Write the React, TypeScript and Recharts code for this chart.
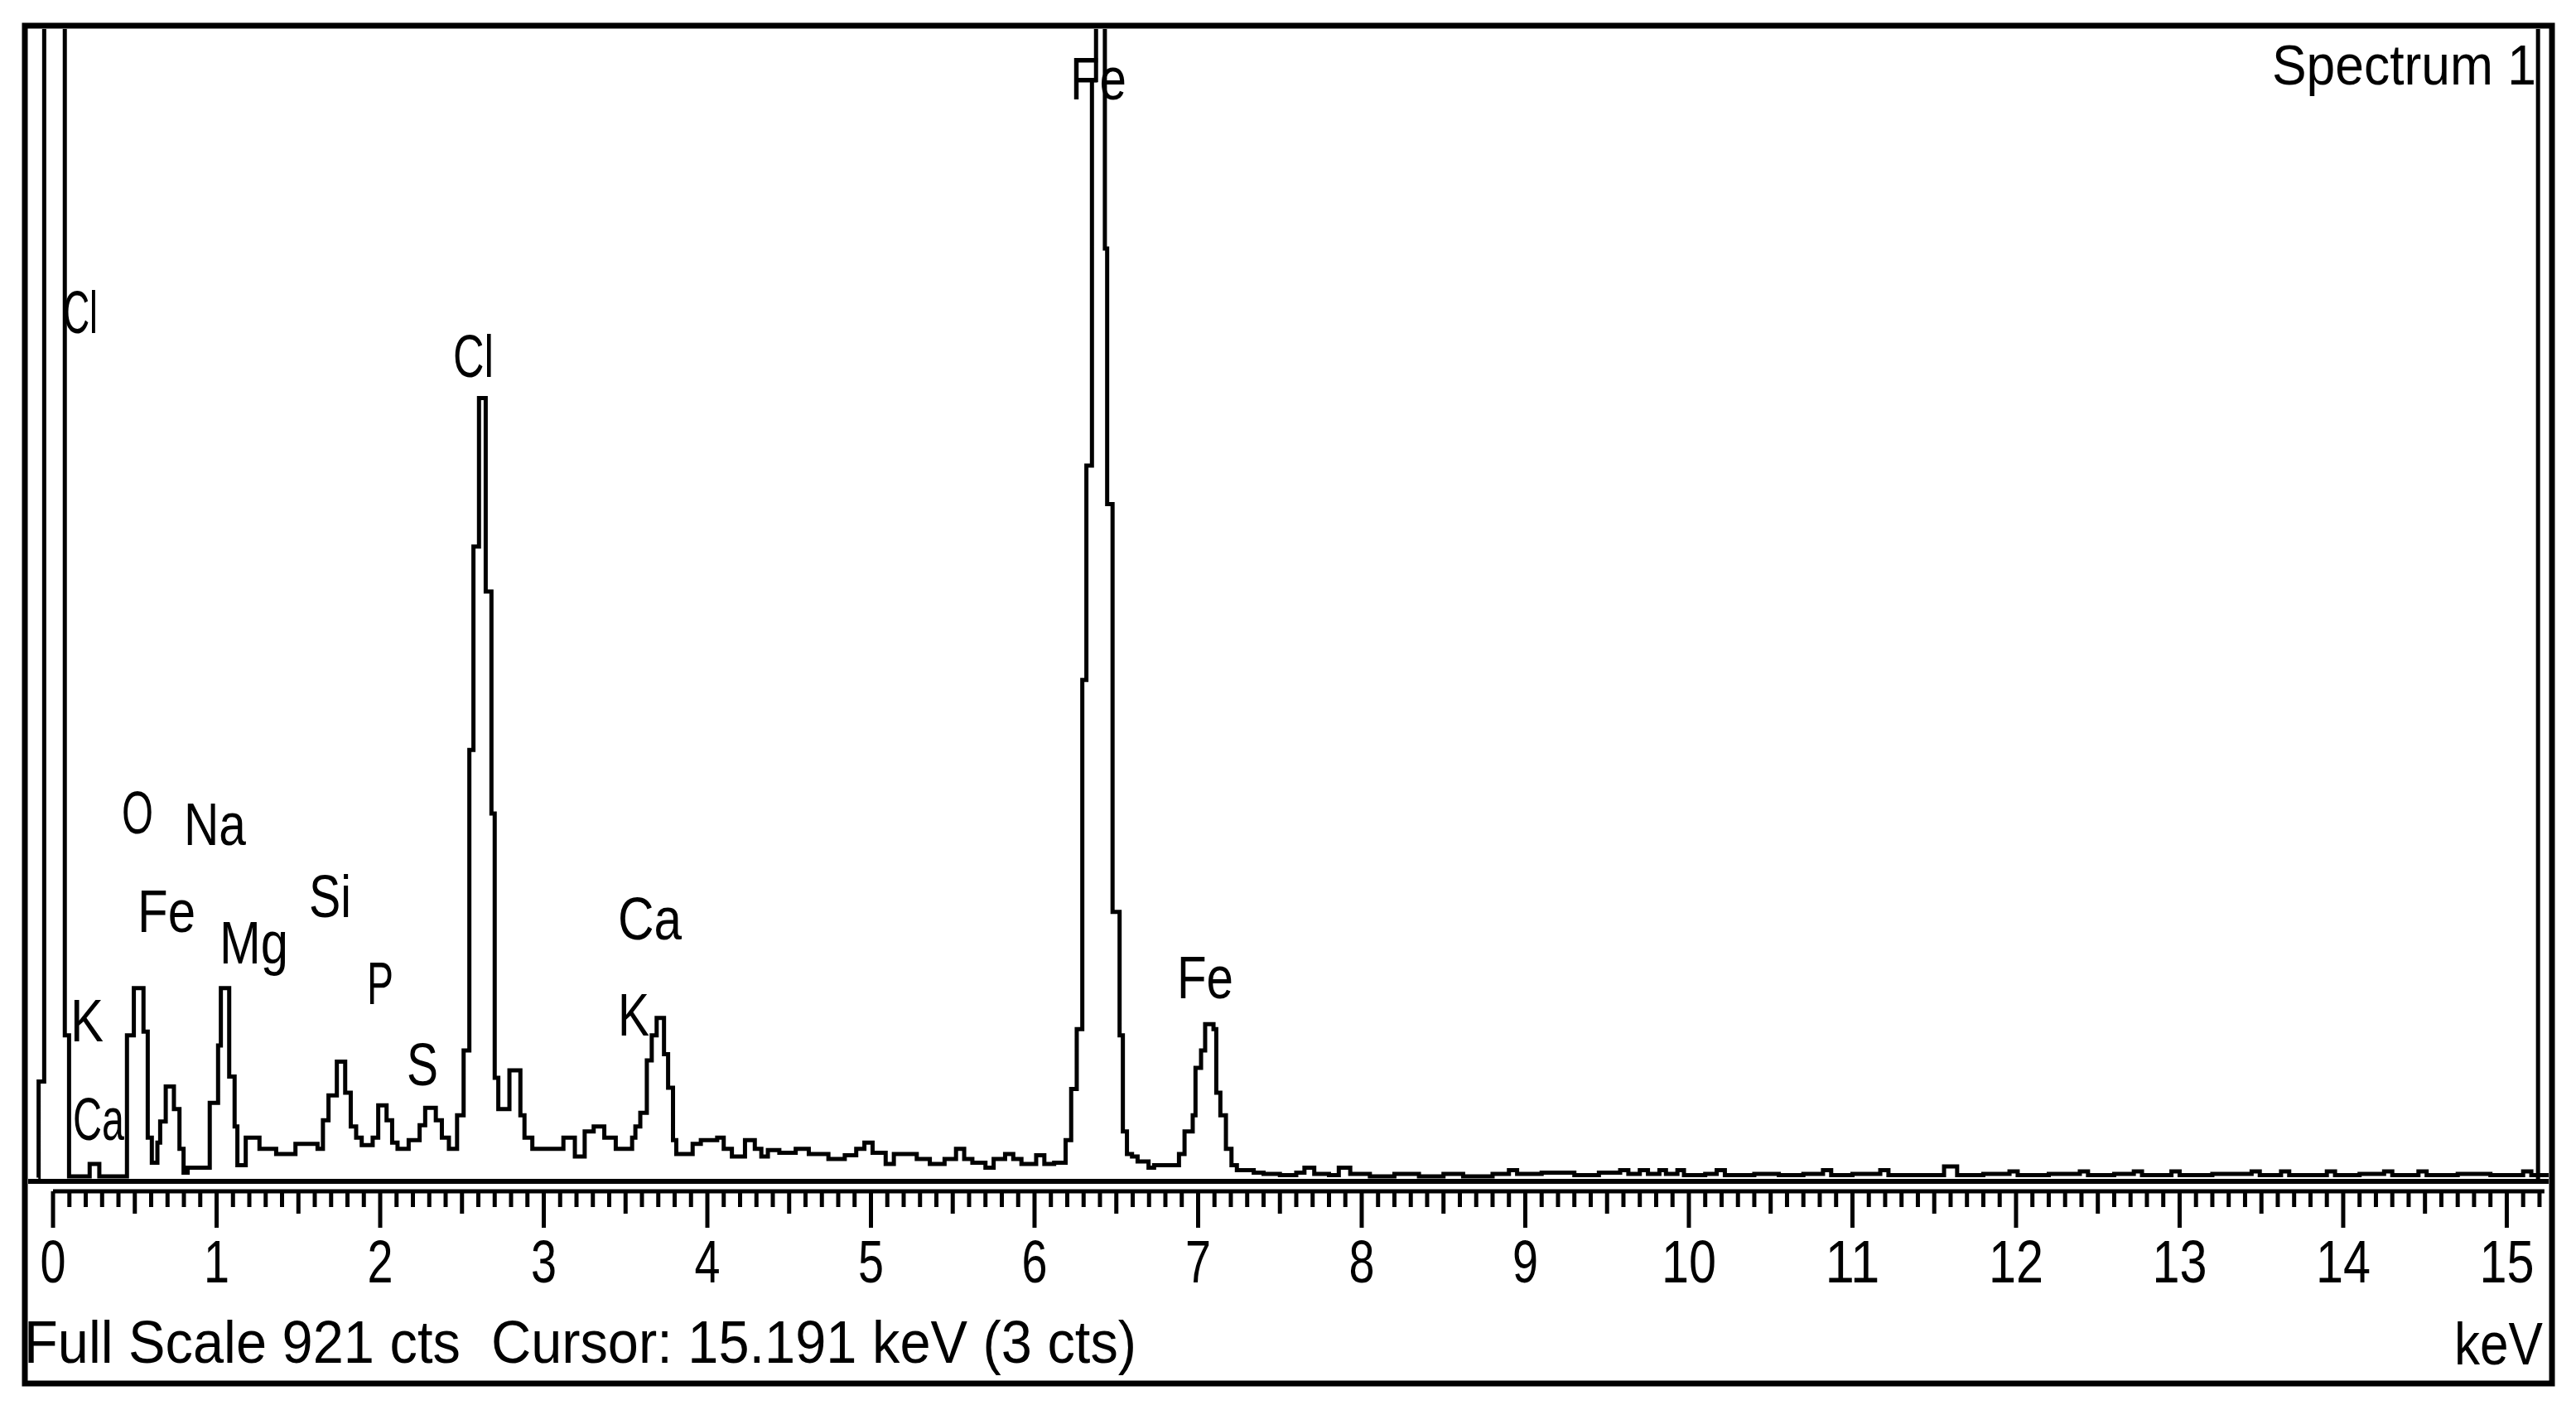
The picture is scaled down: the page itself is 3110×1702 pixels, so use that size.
import React from 'react';
import { LineChart, Line, XAxis, YAxis, ReferenceLine } from 'recharts';

// EDS spectrum, counts per energy step (keV)
const lightEnergy = [-0.09, -0.088, -0.054, 0.072, 0.098, 0.224, 0.283, 0.452, 0.494, 0.553, 0.579, 0.604, 0.638, 0.655, 0.689, 0.739, 0.773, 0.798, 0.823, 0.958, 1.009, 1.026, 1.077, 1.11, 1.127, 1.178];
const lightCounts = [0, 77, 2500, 114, 1, 11, 1, 114, 152, 117, 32, 12, 28, 45, 73, 55, 23, 4, 8, 60, 106, 152, 81, 41, 10, 32];

const siEnergy = [1.262, 1.364, 1.482, 1.617, 1.65, 1.684, 1.735, 1.786, 1.82, 1.853, 1.887, 1.954, 1.988, 2.039, 2.073, 2.106, 2.174, 2.241, 2.275, 2.34, 2.377, 2.42, 2.47];
const siCounts = [23, 19, 27, 23, 46, 66, 93, 68, 41, 32, 26, 32, 58, 46, 28, 23, 30, 42, 56, 46, 32, 23, 50];

const clEnergy = [2.51, 2.545, 2.57, 2.604, 2.645, 2.68, 2.7, 2.722, 2.79, 2.857, 2.882, 2.93];
const clCounts = [102, 343, 506, 625, 470, 292, 80, 55, 86, 50, 32, 23];

const caEnergy = [3.12, 3.19, 3.25, 3.305, 3.37, 3.44, 3.54, 3.56, 3.59, 3.63, 3.66, 3.69, 3.735, 3.76, 3.79, 3.81, 3.91, 3.96, 4.06, 4.1, 4.15, 4.23, 4.29, 4.33, 4.37, 4.44, 4.54, 4.62, 4.74, 4.84, 4.91, 4.96, 5.01, 5.09, 5.14, 5.28, 5.36, 5.45, 5.52, 5.57, 5.62, 5.7, 5.75, 5.82, 5.87, 5.92, 6.01, 6.06, 6.12];
const caCounts = [32, 17, 37, 41, 32, 23, 32, 41, 52, 94, 114, 128, 99, 72, 30, 19, 27, 30, 32, 23, 17, 30, 23, 17, 22, 20, 23, 19, 15, 18, 23, 28, 20, 11, 19, 15, 11, 15, 23, 15, 12, 8, 15, 19, 15, 11, 18, 11, 12];

const feEnergy = [6.19, 6.224, 6.258, 6.292, 6.317, 6.351, 6.376, 6.43, 6.444, 6.477, 6.52, 6.54, 6.565, 6.596, 6.63, 6.697, 6.731, 6.883, 6.917, 6.967, 6.984, 7.018, 7.043, 7.094, 7.111, 7.136, 7.17, 7.204, 7.237, 7.34];
const feCounts = [30, 71, 119, 399, 571, 880, 960, 745, 540, 213, 114, 37, 19, 17, 13, 8, 10, 19, 37, 50, 88, 102, 123, 119, 68, 50, 23, 10, 6, 4];

const tailEnergy = [7.4, 7.5, 7.6, 7.65, 7.71, 7.8, 7.86, 7.93, 8.05, 8.2, 8.35, 8.5, 8.62, 8.8, 8.9, 8.95, 9.1, 9.3, 9.45, 9.58, 9.63, 9.7, 9.75, 9.82, 9.86, 9.93, 9.97, 10.1, 10.17, 10.22, 10.4, 10.55, 10.7, 10.82, 10.87, 11.0, 11.17, 11.22, 11.4, 11.56, 11.64, 11.8, 11.96, 12.01, 12.2, 12.39, 12.44, 12.6, 12.72, 12.77, 12.95, 13.0, 13.2, 13.44, 13.49, 13.62, 13.67, 13.9, 13.95, 14.1, 14.25, 14.3, 14.46, 14.51, 14.7, 14.9, 15.1, 15.15, 15.26];
const tailCounts = [3, 2, 4, 8, 3, 2, 8, 3, 1, 3, 1, 3, 1, 3, 6, 3, 4, 2, 4, 6, 3, 6, 3, 6, 3, 6, 2, 3, 6, 2, 3, 2, 3, 6, 2, 3, 6, 2, 2, 9, 2, 3, 5, 2, 3, 5, 2, 3, 5, 2, 5, 2, 3, 5, 2, 5, 2, 5, 2, 3, 5, 2, 5, 2, 3, 2, 5, 2, 2];

const majorTicks = [0, 1, 2, 3, 4, 5, 6, 7, 8, 9, 10, 11, 12, 13, 14, 15];
const fullScale = 921;
const cursorKeV = 15.191;
const bottomText = 'Full Scale 921 cts  Cursor: 15.191 keV (3 cts)';

// element labels: text, left, baseline, width (px)
const elementLabels: [string, number, number, number][] = [
  ['Cl', 76, 402, 42],
  ['Cl', 547, 455, 49],
  ['Fe', 1292, 120, 68],
  ['O', 147, 1006, 38],
  ['Na', 222, 1020, 75],
  ['Fe', 166, 1125, 70],
  ['Mg', 265, 1163, 83],
  ['Si', 373, 1107, 51],
  ['P', 443, 1212, 32],
  ['S', 491, 1310, 38],
  ['Ca', 746, 1134, 77],
  ['K', 746, 1250, 38],
  ['K', 85, 1257, 40],
  ['Ca', 88, 1376, 62],
  ['Fe', 1421, 1205, 68],
];

const zip = (e: number[], c: number[]) => e.map((keV, i) => ({ keV, cts: c[i] }));
const spectrum = [
  ...zip(lightEnergy, lightCounts),
  ...zip(siEnergy, siCounts),
  ...zip(clEnergy, clCounts),
  ...zip(caEnergy, caCounts),
  ...zip(feEnergy, feCounts),
  ...zip(tailEnergy, tailCounts),
];

const minorTicks = Array.from({ length: 153 }, (_, i) => i / 10);

const W = 3110;
const H = 1702;
const FONT = '"Liberation Sans", Arial, sans-serif';
const xDomain: [number, number] = [-0.152, 15.256];

// ruler sits a little below the plot's bottom edge
const RulerTick = (props: any) => {
  const { x, payload } = props;
  const y = props.y + 12;
  const v = payload.value;
  const major = Number.isInteger(v);
  const half = !major && Number.isInteger(Math.round(v * 20) / 10);
  const len = major ? 44 : half ? 27 : 19;
  return (
    <g>
      <line x1={x} x2={x} y1={y} y2={y + len} stroke="#000" strokeWidth={5} />
      {major && majorTicks.includes(v) && (
        <text
          x={x}
          y={y + 110}
          textAnchor="middle"
          fontFamily={FONT}
          fontSize={72}
          fill="#000"
          textLength={v >= 10 ? 66 : 31}
          lengthAdjust="spacingAndGlyphs"
        >
          {v}
        </text>
      )}
    </g>
  );
};

export default function App() {
  return (
    <div style={{ position: 'relative', width: W, height: H, background: '#fff' }}>
      <style>{'body{margin:0}'}</style>
      <LineChart width={W} height={H} data={spectrum} margin={{ top: 35, right: 33, bottom: 164, left: 34 }}>
        <XAxis
          dataKey="keV"
          type="number"
          domain={xDomain}
          allowDataOverflow
          height={112}
          ticks={minorTicks}
          interval={0}
          tickSize={0}
          tickMargin={0}
          tickLine={false}
          axisLine={false}
          tick={(p: any) => <RulerTick {...p} />}
        />
        <YAxis type="number" domain={[-3, fullScale]} allowDataOverflow hide />
        {/* panel separator and energy ruler */}
        <ReferenceLine y={-3} ifOverflow="visible" stroke="#000" strokeWidth={6} />
        <ReferenceLine
          segment={[{ x: 0, y: -11 }, { x: 15.23, y: -11 }]}
          ifOverflow="visible"
          stroke="#000"
          strokeWidth={5}
        />
        <ReferenceLine x={cursorKeV} stroke="#000" strokeWidth={5} />
        <Line
          dataKey="cts"
          type="stepAfter"
          stroke="#000"
          strokeWidth={5}
          strokeLinejoin="miter"
          dot={false}
          activeDot={false}
          isAnimationActive={false}
        />
      </LineChart>
      <svg width={W} height={H} style={{ position: 'absolute', left: 0, top: 0, pointerEvents: 'none' }}>
        <rect x={30} y={31} width={3051} height={1639} fill="none" stroke="#000" strokeWidth={7} />
        {elementLabels.map(([t, x, y, w], i) => (
          <text key={i} x={x} y={y} fontFamily={FONT} fontSize={72} fill="#000" textLength={w} lengthAdjust="spacingAndGlyphs">
            {t}
          </text>
        ))}
        <text x={2743} y={102} fontFamily={FONT} fontSize={68} fill="#000" textLength={319} lengthAdjust="spacingAndGlyphs">
          Spectrum 1
        </text>
        <text x={29} y={1645} fontFamily={FONT} fontSize={72} fill="#000" textLength={1343} lengthAdjust="spacingAndGlyphs" style={{ whiteSpace: 'pre' }}>
          {bottomText}
        </text>
        <text x={2963} y={1647} fontFamily={FONT} fontSize={72} fill="#000" textLength={107} lengthAdjust="spacingAndGlyphs">
          keV
        </text>
      </svg>
    </div>
  );
}
